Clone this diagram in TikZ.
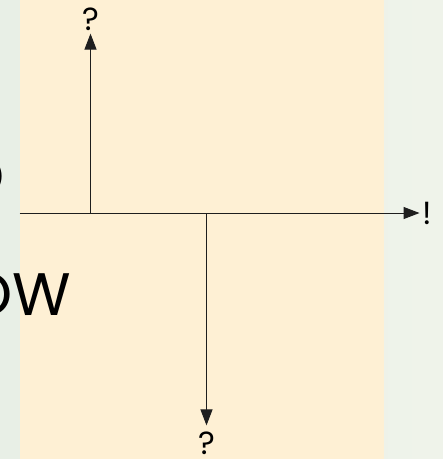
\documentclass[tikz,border=0pt]{standalone}
\usepackage{fontspec}
\setmainfont{Poppins}
\usepackage{tikz}
\usetikzlibrary{arrows.meta, positioning}
\definecolor{bgleft}{RGB}{232,239,230}
\definecolor{bgright}{RGB}{239,243,234}
\definecolor{panelcream}{RGB}{254,240,212}
\definecolor{axisdark}{RGB}{30,30,30}
\tikzset{
  axisarrow/.style={line width=1pt, color=axisdark, -{Triangle[length=16pt, width=12pt]}},
  sign/.style={font=\fontsize{32}{34}\selectfont, inner sep=3pt},
  bigword/.style={font=\fontsize{60}{60}\selectfont, inner sep=0pt, anchor=base east}
}
\begin{document}
\begin{tikzpicture}[x=1pt, y=-1pt]
  \useasboundingbox (0,0) rectangle (443,459);
  \clip (0,0) rectangle (443,459);
  % ── Backdrop ──────────────────────────────────────────────────────────────
  \shade[left color=bgleft, right color=bgright] (0,0) rectangle (443,459);
  \fill[panelcream] (19.5,0) rectangle (384,459);
  % Slide text cut off at the left edge
  \node[bigword] (wordtop) at (5,197) {O};
  \node[bigword] (wordlow) at (71,315) {OW};
  % ── Axes ──────────────────────────────────────────────────────────────────
  \coordinate (origin) at (19.5,213);
  \coordinate (upfoot) at (90.5,213);
  \coordinate (downfoot) at (206.5,213);
  \node[sign] (bang) at (427.5,213) {!};
  \node[sign] (qup) at (90.5,19) {?};
  \node[sign] (qdown) at (206.5,443) {?};
  \draw[axisarrow] (origin) -- (bang.west |- origin);
  \draw[axisarrow] (upfoot) -- (qup.south);
  \draw[axisarrow, shorten >=3pt] (downfoot) -- (qdown.north);
\end{tikzpicture}
\end{document}
